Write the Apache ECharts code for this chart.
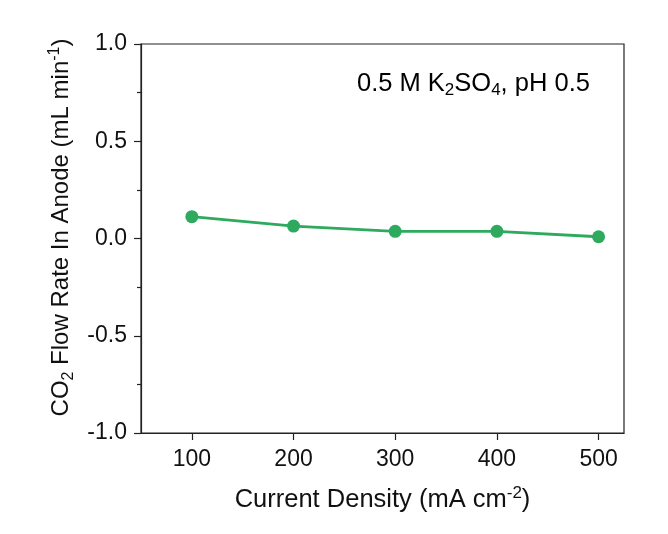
<!DOCTYPE html>
<html>
<head>
<meta charset="utf-8">
<script src="https://cdn.jsdelivr.net/npm/echarts@6/dist/echarts.min.js"></script>
<style>html,body{margin:0;padding:0;background:#fff}#c{width:668px;height:534px}</style>
</head>
<body>
<div id="c"></div>
<script>
const currentDensity = [100, 200, 300, 400, 500];
const co2FlowRate = [0.112, 0.064, 0.037, 0.037, 0.009];
const xTicks = [100, 200, 300, 400, 500];
const yTicks = [-1.0, -0.5, 0.0, 0.5, 1.0];

const FONT = '"Liberation Sans", Arial, sans-serif';
const GREEN = '#2eaa5f';
const chart = echarts.init(document.getElementById('c'), null, {renderer: 'canvas'});
function rich(size, sub) {
  return {
    n: {fontSize: size, fontFamily: FONT, color: '#111', lineHeight: 30, verticalAlign: 'middle'},
    sub: {fontSize: sub, fontFamily: FONT, color: '#111', lineHeight: 30, verticalAlign: 'bottom'},
    sup: {fontSize: sub, fontFamily: FONT, color: '#111', lineHeight: 30, verticalAlign: 'top'}
  };
}
chart.setOption({
  animation: false,
  backgroundColor: '#fff',
  grid: {left: 141, top: 44, right: 44, bottom: 101, show: true, borderColor: '#222', borderWidth: 1.2, backgroundColor: 'transparent'},
  xAxis: {
    type: 'value', min: 50, max: 525,
    name: '{n|Current Density (mA cm}{sup|-2}{n|)}',
    nameLocation: 'middle', nameGap: 52,
    nameTextStyle: {rich: rich(25.5, 17)},
    axisLine: {show: true, onZero: false, lineStyle: {color: '#222', width: 1.2}},
    axisTick: {show: true, inside: false, length: 7, customValues: xTicks, lineStyle: {color: '#222', width: 1.2}},
    axisLabel: {customValues: xTicks, fontSize: 23, fontFamily: FONT, color: '#111', margin: 15},
    splitLine: {show: false}
  },
  yAxis: {
    type: 'value', min: -1, max: 1, interval: 0.5,
    name: '{n|CO}{sub|2}{n| Flow Rate In Anode (mL min}{sup|-1}{n|)}',
    nameLocation: 'middle', nameGap: 64, nameRotate: 90,
    nameTextStyle: {rich: rich(24, 16), padding: [0, 0, 0, 22]},
    axisLine: {show: true, onZero: false, lineStyle: {color: '#222', width: 1.2}},
    axisTick: {show: true, inside: false, length: 7, lineStyle: {color: '#222', width: 1.2}},
    minorTick: {show: true, splitNumber: 2, length: 4, lineStyle: {color: '#222', width: 1.2}},
    axisLabel: {fontSize: 23, fontFamily: FONT, color: '#111', margin: 14,
      formatter: v => v.toFixed(1)},
    splitLine: {show: false}
  },
  series: [{
    type: 'line',
    data: currentDensity.map((x, i) => [x, co2FlowRate[i]]),
    symbol: 'circle', symbolSize: 13,
    lineStyle: {color: GREEN, width: 2.8},
    itemStyle: {color: GREEN},
    z: 5
  }],
  graphic: [{
    type: 'text', left: 357, top: 71,
    style: {
      text: '{n|0.5 M K}{sub|2}{n|SO}{sub|4}{n|, pH 0.5}',
      rich: rich(25.5, 17)
    }
  }]
});
</script>
</body>
</html>
